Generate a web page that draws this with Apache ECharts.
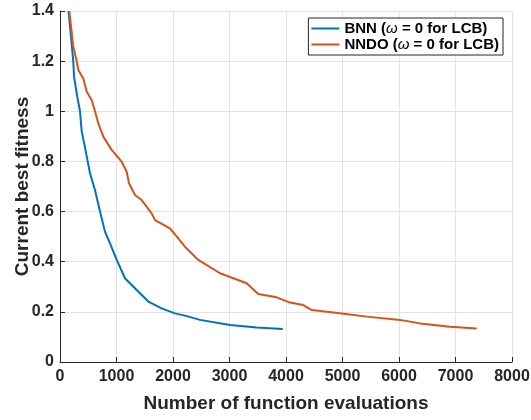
<!DOCTYPE html>
<html lang="en">
<head>
    <meta charset="UTF-8">
    <title>Current best fitness</title>
    <script src="https://cdn.jsdelivr.net/npm/echarts@6/dist/echarts.min.js"></script>
    <style>
        html, body { margin: 0; padding: 0; background: #fff; }
    </style>
</head>
<body>
<div id="main" style="width:531px;height:420px;"></div>
<script>
    // [evaluations, fitness]
    const bnnX = [150, 189, 235, 248, 306, 354, 384, 430, 490, 531, 619, 708, 796, 885, 1004, 1150, 1357, 1563, 1799, 2035, 2212, 2478, 3009, 3481, 3942];
    const bnnY = [1.4, 1.311, 1.2, 1.138, 1.058, 1.0, 0.92, 0.87, 0.8, 0.753, 0.686, 0.6, 0.52, 0.473, 0.407, 0.334, 0.287, 0.241, 0.214, 0.194, 0.185, 0.168, 0.148, 0.138, 0.132];

    const nndoX = [165, 235, 296, 324, 412, 473, 561, 619, 678, 766, 915, 1091, 1180, 1221, 1327, 1445, 1622, 1681, 1947, 2212, 2448, 2832, 3304, 3510, 3835, 4071, 4306, 4455, 4956, 5428, 6018, 6372, 6903, 7375];
    const nndoY = [1.4, 1.258, 1.2, 1.165, 1.131, 1.078, 1.045, 1.0, 0.952, 0.899, 0.846, 0.799, 0.759, 0.713, 0.666, 0.646, 0.593, 0.566, 0.533, 0.46, 0.407, 0.354, 0.314, 0.271, 0.258, 0.237, 0.227, 0.207, 0.194, 0.181, 0.168, 0.154, 0.141, 0.134];

    const seriesNames = ['BNN', 'NNDO'];
    const seriesColors = ['#0072BD', '#D95319'];

    function pairs(xs, ys) {
        return xs.map((x, i) => [x, ys[i]]);
    }

    const txt = '#262626';
    const font = 'Liberation Sans, Arial, sans-serif';

    let chart = echarts.init(document.getElementById('main'));
    chart.setOption({
        backgroundColor: '#fff',
        animation: false,
        grid: { left: 60, right: 19, top: 11, bottom: 58, outerBoundsMode: 'none' },
        legend: {
            right: 28, top: 18,
            orient: 'vertical',
            itemWidth: 28, itemHeight: 2, itemGap: 1,
            padding: [3, 4, 3, 3],
            backgroundColor: '#fff',
            borderColor: '#262626', borderWidth: 1,
            icon: 'rect',
            data: seriesNames,
            formatter: name => '{b|' + name + ' (}{i|ω}{b| = 0 for LCB)}',
            textStyle: {
                rich: {
                    b: { fontFamily: font, fontWeight: 'bold', fontSize: 15, lineHeight: 18, color: '#000' },
                    i: { fontFamily: font, fontStyle: 'italic', fontSize: 15, lineHeight: 18, color: '#000' }
                }
            }
        },
        xAxis: {
            type: 'value', min: 0, max: 8000, interval: 1000,
            name: 'Number of function evaluations',
            nameLocation: 'middle', nameGap: 32, nameMoveOverlap: false,
            nameTextStyle: { fontFamily: font, fontWeight: 'bold', fontSize: 19, color: txt },
            axisLine: { lineStyle: { color: txt, width: 1 } },
            axisTick: { inside: true, length: 5, lineStyle: { color: txt } },
            axisLabel: { fontFamily: font, fontWeight: 'bold', fontSize: 16, color: txt, margin: 7, formatter: v => String(v) },
            splitLine: { show: true, lineStyle: { color: '#e3e3e3', width: 1 } }
        },
        yAxis: {
            type: 'value', min: 0, max: 1.4, interval: 0.2,
            name: 'Current best fitness',
            nameLocation: 'middle', nameGap: 28, nameMoveOverlap: false,
            nameTextStyle: { fontFamily: font, fontWeight: 'bold', fontSize: 19, color: txt },
            axisLine: { show: true, lineStyle: { color: txt, width: 1 } },
            axisTick: { show: true, inside: true, length: 5, lineStyle: { color: txt } },
            axisLabel: { fontFamily: font, fontWeight: 'bold', fontSize: 16, color: txt, margin: 6 },
            splitLine: { show: true, lineStyle: { color: '#e3e3e3', width: 1 } }
        },
        series: [
            {
                name: seriesNames[0], type: 'line', showSymbol: false,
                data: pairs(bnnX, bnnY),
                lineStyle: { color: seriesColors[0], width: 2 },
                itemStyle: { color: seriesColors[0] }
            },
            {
                name: seriesNames[1], type: 'line', showSymbol: false,
                data: pairs(nndoX, nndoY),
                lineStyle: { color: seriesColors[1], width: 2 },
                itemStyle: { color: seriesColors[1] }
            }
        ]
    });
</script>
</body>
</html>
